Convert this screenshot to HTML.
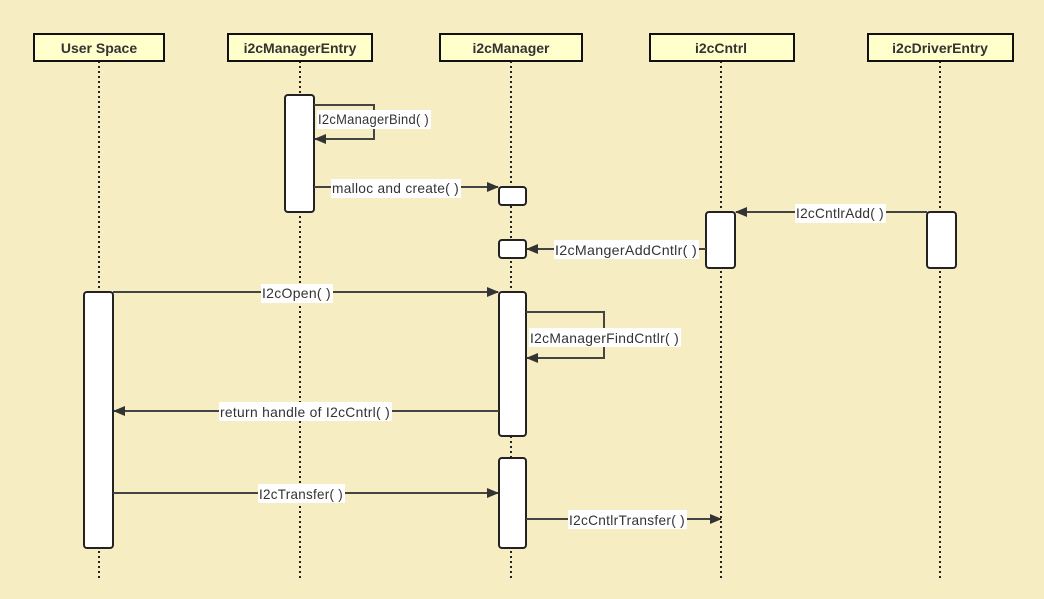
<!DOCTYPE html>
<html><head><meta charset="utf-8"><style>
html,body{margin:0;padding:0;background:#f7edc3;}
svg{display:block;}
text{font-family:"Liberation Sans","DejaVu Sans",sans-serif;}
.h{font-weight:bold;font-size:14px;fill:#333;}
.l{font-size:14px;fill:#333;letter-spacing:0.3px;}
.ll{stroke:#222;stroke-width:2;stroke-dasharray:2,3;}
.act{fill:#fff;stroke:#222;stroke-width:2;}
.m{stroke:#444;stroke-width:2;fill:none;}
.bg{fill:#fff;}
</style></head><body>
<svg width="1044" height="599" viewBox="0 0 1044 599" xmlns="http://www.w3.org/2000/svg">
<defs><marker id="a" markerWidth="12" markerHeight="10" refX="11" refY="5" orient="auto" markerUnits="userSpaceOnUse"><path d="M0,0 L12,5 L0,10 z" fill="#333"/></marker></defs>
<rect width="1044" height="599" fill="#f7edc3"/>
<g class="ll">
<line x1="99" y1="61" x2="99" y2="580"/><line x1="300" y1="61" x2="300" y2="580"/><line x1="511" y1="61" x2="511" y2="580"/><line x1="721" y1="61" x2="721" y2="580"/><line x1="940" y1="61" x2="940" y2="580"/>
</g>
<g fill="#ffffcc" stroke="#111" stroke-width="2">
<rect x="34" y="34" width="130" height="27"/><rect x="228" y="34" width="144" height="27"/><rect x="440" y="34" width="142" height="27"/><rect x="650" y="34" width="144" height="27"/><rect x="868" y="34" width="145" height="27"/>
</g>
<g class="h" text-anchor="middle">
<text x="99" y="53">User Space</text><text x="300" y="53">i2cManagerEntry</text><text x="511" y="53">i2cManager</text><text x="721" y="53">i2cCntrl</text><text x="940" y="53">i2cDriverEntry</text>
</g>
<g class="act">
<rect x="285" y="95" width="29" height="117" rx="3"/>
<rect x="499" y="187" width="27" height="18" rx="3"/>
<rect x="499" y="240" width="27" height="18" rx="3"/>
<rect x="706" y="212" width="29" height="56" rx="3"/>
<rect x="927" y="212" width="29" height="56" rx="3"/>
<rect x="84" y="292" width="29" height="256" rx="3"/>
<rect x="499" y="292" width="27" height="144" rx="3"/>
<rect x="499" y="458" width="27" height="90" rx="3"/>
</g>
<g class="m">
<polyline points="314,105 374,105 374,139 315,139" marker-end="url(#a)"/>
<line x1="314" y1="187" x2="498" y2="187" marker-end="url(#a)"/>
<line x1="927" y1="212" x2="736" y2="212" marker-end="url(#a)"/>
<line x1="706" y1="249" x2="527" y2="249" marker-end="url(#a)"/>
<line x1="113" y1="292" x2="498" y2="292" marker-end="url(#a)"/>
<polyline points="526,312 604,312 604,358 527,358" marker-end="url(#a)"/>
<line x1="499" y1="411" x2="114" y2="411" marker-end="url(#a)"/>
<line x1="113" y1="493" x2="498" y2="493" marker-end="url(#a)"/>
<line x1="526" y1="519" x2="721" y2="519" marker-end="url(#a)"/>
</g>
<g class="bg">
<rect x="317" y="110" width="114" height="19"/>
<rect x="331" y="179" width="130" height="19"/>
<rect x="795" y="204" width="91" height="19"/>
<rect x="554" y="240" width="145" height="19"/>
<rect x="261" y="284" width="72" height="19"/>
<rect x="529" y="328" width="152" height="19"/>
<rect x="219" y="402" width="173" height="19"/>
<rect x="258" y="484" width="87" height="19"/>
<rect x="568" y="510" width="119" height="19"/>
</g>
<g class="l">
<text x="318" y="124" textLength="111" lengthAdjust="spacingAndGlyphs">I2cManagerBind( )</text>
<text x="332" y="193" textLength="127" lengthAdjust="spacingAndGlyphs">malloc and create( )</text>
<text x="796" y="218" textLength="88" lengthAdjust="spacingAndGlyphs">I2cCntlrAdd( )</text>
<text x="555" y="255" textLength="142" lengthAdjust="spacingAndGlyphs">I2cMangerAddCntlr( )</text>
<text x="262" y="298" textLength="69" lengthAdjust="spacingAndGlyphs">I2cOpen( )</text>
<text x="530" y="343" textLength="149" lengthAdjust="spacingAndGlyphs">I2cManagerFindCntlr( )</text>
<text x="220" y="417" textLength="170" lengthAdjust="spacingAndGlyphs">return handle of I2cCntrl( )</text>
<text x="259" y="499" textLength="84" lengthAdjust="spacingAndGlyphs">I2cTransfer( )</text>
<text x="569" y="525" textLength="116" lengthAdjust="spacingAndGlyphs">I2cCntlrTransfer( )</text>
</g>
</svg>
</body></html>
